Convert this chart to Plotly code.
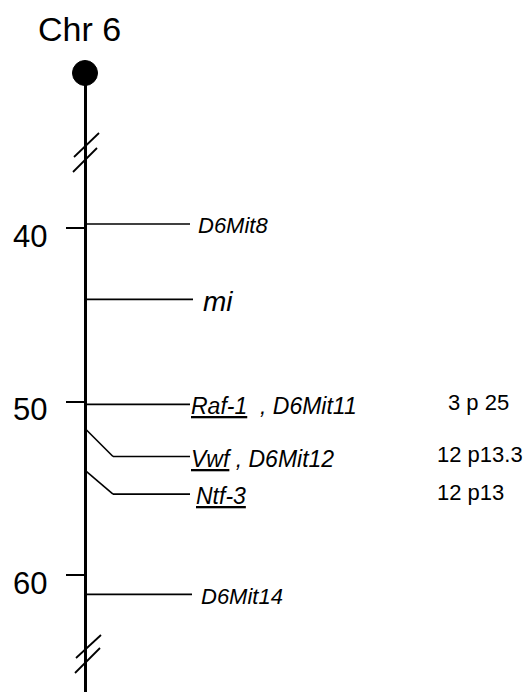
import plotly.graph_objects as go

# ---- data ----
chrom_name = "Chr 6"
tick_vals = [40, 50, 60]
tick_text = ["40", "50", "60"]
marker_labels = ["D6Mit8", "mi", "<u>Raf-1</u>\u00a0 , D6Mit11", "<u>Vwf</u> , D6Mit12", "<u>Ntf-3</u>", "D6Mit14"]
marker_cm = [39.75, 44.1, 50.15, 51.6, 54.0, 61.1]
human_loci = ["", "", "3 p 25", "12 p13.3", "12 p13", ""]

# ---- layout constants ----
W, H = 524, 692
TOP_PX = 73            # centromere / top of chromosome line
Y_RANGE = [66.73, 31.05]
CHR_X = 85
LINE_END = [190, 193, 190, 190, 190, 192]
LABEL_DROP_PX = [0, 0, 0, 27, 23, 0]    # displaced label lines
LABEL_X = [196, 201, 189, 189, 194, 199]
LABEL_SIZE = [22, 28, 23, 23, 23, 22]
HUMAN_X = [0, 0, 446, 435, 435, 0]
FONT = "Liberation Sans, Arial, Helvetica, sans-serif"

dom_top = 1 - TOP_PX / H
px_per_cm = (dom_top * H) / (Y_RANGE[0] - Y_RANGE[1])

fig = go.Figure()
fig.add_trace(go.Scatter(x=[0], y=[50], mode="markers", marker=dict(opacity=0), hoverinfo="skip", showlegend=False))

shapes = []
annotations = []

# marker lines and labels
for lab, cm, end, drop, lx, ls, hx, hl in zip(marker_labels, marker_cm, LINE_END, LABEL_DROP_PX,
                                                LABEL_X, LABEL_SIZE, HUMAN_X, human_loci):
    ly = cm + drop / px_per_cm
    if drop:
        shapes.append(dict(type="line", xref="x", yref="y", x0=CHR_X + 1, y0=cm, x1=113, y1=ly,
                           line=dict(color="black", width=1.6)))
        shapes.append(dict(type="line", xref="x", yref="y", x0=113, y0=ly, x1=end, y1=ly,
                           line=dict(color="black", width=1.6)))
    else:
        shapes.append(dict(type="line", xref="x", yref="y", x0=CHR_X + 1, y0=cm, x1=end, y1=cm,
                           line=dict(color="black", width=1.6)))
    annotations.append(dict(x=lx, y=ly, xref="x", yref="y", text="<i>" + lab + "</i>", showarrow=False,
                            xanchor="left", yanchor="middle", yshift=-2,
                            font=dict(family=FONT, size=ls, color="black")))
    if hl:
        annotations.append(dict(x=hx, y=ly, xref="x", yref="y", text=hl, showarrow=False,
                                xanchor="left", yanchor="middle", yshift=2,
                                font=dict(family=FONT, size=22, color="black")))

# tick labels (set slightly below tick marks as in the original)
for v, t in zip(tick_vals, tick_text):
    annotations.append(dict(x=49, y=v, xref="x", yref="y", text=t, showarrow=False,
                            xanchor="right", yanchor="middle", yshift=-8,
                            font=dict(family=FONT, size=31, color="black")))

# title
annotations.append(dict(x=79, y=1 - 29 / H, xref="x", yref="paper", text=chrom_name, showarrow=False,
                        xanchor="center", yanchor="middle",
                        font=dict(family=FONT, size=34, color="black")))

# centromere
shapes.append(dict(type="circle", xref="x", yref="paper", x0=CHR_X - 12.5, x1=CHR_X + 12.5,
                   y0=1 - (TOP_PX + 12.5) / H, y1=1 - (TOP_PX - 12.5) / H,
                   fillcolor="black", line=dict(color="black", width=1)))

# break marks
for (xa, ya, xb, yb) in [(74, 157, 99, 133), (73, 172, 97, 148), (76, 658, 101, 635), (75, 673, 100, 648)]:
    shapes.append(dict(type="line", xref="x", yref="paper", x0=xa, y0=1 - ya / H, x1=xb, y1=1 - yb / H,
                       line=dict(color="black", width=1.8)))

fig.update_layout(
    width=W, height=H, margin=dict(l=0, r=0, t=0, b=0),
    paper_bgcolor="white", plot_bgcolor="white",
    xaxis=dict(range=[0, W], visible=False, fixedrange=True),
    yaxis=dict(range=Y_RANGE, domain=[0, dom_top], anchor="free", position=CHR_X / W,
               showline=True, linewidth=3, linecolor="black", showgrid=False, zeroline=False,
               tickvals=tick_vals, ticks="outside", ticklen=18, tickwidth=1.5, tickcolor="black",
               showticklabels=False, fixedrange=True),
    shapes=shapes, annotations=annotations, showlegend=False,
)

fig.write_html("out.html", config={"displayModeBar": False},
               post_script="document.body.style.margin='0';document.body.style.overflow='hidden';")
